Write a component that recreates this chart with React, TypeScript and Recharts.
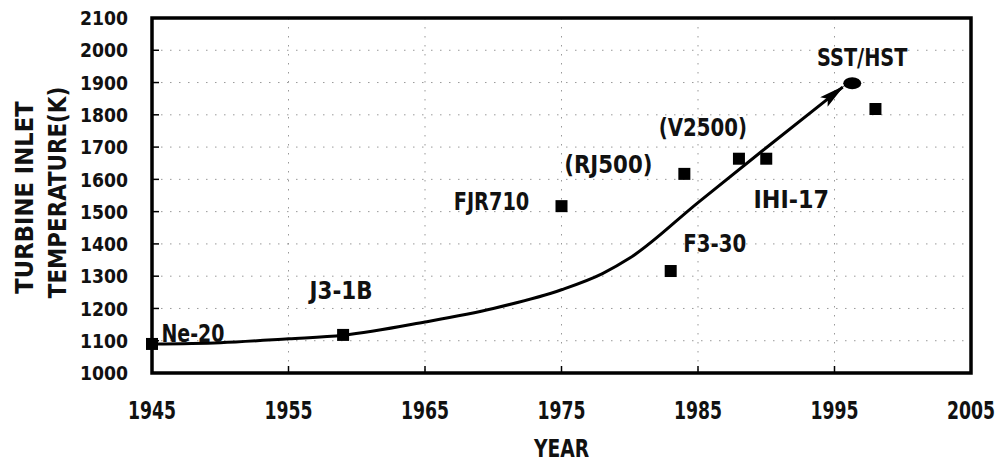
import React from 'react';
import {
  ComposedChart,
  Line,
  Scatter,
  XAxis,
  YAxis,
  CartesianGrid,
  ReferenceArea,
  Label
} from 'recharts';

// Engines plotted as squares
const engineNames = ['Ne-20', 'J3-1B', 'FJR710', '(RJ500)', 'F3-30', '(V2500)', 'IHI-17', ''];
const engineYears = [1945, 1959, 1975, 1984, 1983, 1988, 1990, 1998];
const engineTemps = [1090, 1118, 1517, 1617, 1316, 1664, 1664, 1818];

// Target marked with an ellipse
const targetNames = ['SST/HST'];
const targetYears = [1996.3];
const targetTemps = [1898];

// Trend curve ending in an arrow
const trendYears = [1945, 1950, 1955, 1959, 1965, 1970, 1975, 1978, 1980, 1985, 1990, 1995.6];
const trendTemps = [1090, 1094, 1106, 1117, 1158, 1200, 1258, 1308, 1356, 1528, 1698, 1886];

const yearTicks = [1945, 1955, 1965, 1975, 1985, 1995, 2005];
const tempTicks = [1000, 1100, 1200, 1300, 1400, 1500, 1600, 1700, 1800, 1900, 2000, 2100];

const engines = engineYears.map((year, i) => ({ year, temp: engineTemps[i], name: engineNames[i] }));
const targets = targetYears.map((year, i) => ({ year, temp: targetTemps[i], name: targetNames[i] }));
const trend = trendYears.map((year, i) => ({ year, temp: trendTemps[i] }));

// where each label's centre sits relative to its marker
const labelOffsets: Record<string, [number, number]> = {
  'Ne-20': [41, -11],
  'J3-1B': [-2, -45],
  FJR710: [-70, -5],
  '(RJ500)': [-76, -10],
  'F3-30': [44, -28],
  '(V2500)': [-36, -31],
  'IHI-17': [25, 41],
  'SST/HST': [10, -26]
};

const FONT = '"DejaVu Sans Condensed", "DejaVu Sans", sans-serif';

const Txt = ({ x, y, text, size, charW, anchor = 'middle', rotate = false }: any) => (
  <text
    x={x}
    y={y}
    dy="0.36em"
    fontFamily={FONT}
    fontWeight={700}
    fontSize={size}
    fill="#111"
    textAnchor={anchor}
    textLength={text.length * charW}
    lengthAdjust="spacingAndGlyphs"
    transform={rotate ? `rotate(-90 ${x} ${y})` : undefined}
  >
    {text}
  </text>
);

const YearTick = ({ x, y, payload }: any) => (
  <g>
    <line x1={x} y1={y} x2={x} y2={y - 7} stroke="#000" strokeWidth={1.5} />
    <Txt x={x} y={y + 37} text={String(payload.value)} size={24} charW={12} />
  </g>
);

const TempTick = ({ x, y, payload }: any) => (
  <g>
    <line x1={x} y1={y} x2={x + 7} y2={y} stroke="#000" strokeWidth={1.5} />
    <Txt x={x - 24} y={y} text={String(payload.value)} size={20} charW={12} anchor="end" />
  </g>
);

const SquareMark = ({ cx, cy, payload }: any) => {
  const off = labelOffsets[payload.name];
  return (
    <g>
      <rect x={cx - 6} y={cy - 6} width={12} height={12} fill="#000" />
      {off && <Txt x={cx + off[0]} y={cy + off[1]} text={payload.name} size={24} charW={12.6} />}
    </g>
  );
};

const EllipseMark = ({ cx, cy, payload }: any) => {
  const off = labelOffsets[payload.name];
  return (
    <g>
      <ellipse cx={cx} cy={cy} rx={9} ry={6} fill="#000" />
      {off && <Txt x={cx + off[0]} y={cy + off[1]} text={payload.name} size={24} charW={12.9} />}
    </g>
  );
};

export default function App() {
  return (
    <div style={{ position: 'absolute', left: 0, top: 0, background: '#fff' }}>
      <svg width={0} height={0} style={{ position: 'absolute' }}>
        <defs>
          <marker
            id="trend-arrow"
            markerUnits="userSpaceOnUse"
            markerWidth={26}
            markerHeight={12}
            refX={24}
            refY={6}
            orient="auto"
          >
            <path d="M0,0 L26,6 L0,12 L5,6 z" fill="#000" />
          </marker>
        </defs>
      </svg>
      <ComposedChart width={1000} height={463} margin={{ top: 18, right: 29, bottom: 0, left: 0 }}>
        <CartesianGrid stroke="#999" strokeDasharray="1.5 7.5" strokeWidth={1} />
        <XAxis
          type="number"
          dataKey="year"
          domain={[1945, 2005]}
          ticks={yearTicks}
          interval={0}
          height={90}
          axisLine={false}
          tickLine={false}
          tickSize={0}
          tickMargin={0}
          tick={<YearTick />}
        >
          <Label
            content={({ viewBox }: any) => (
              <Txt x={viewBox.x + viewBox.width / 2} y={448} text="YEAR" size={24} charW={13.8} />
            )}
          />
        </XAxis>
        <YAxis
          type="number"
          dataKey="temp"
          domain={[1000, 2100]}
          ticks={tempTicks}
          interval={0}
          width={152}
          axisLine={false}
          tickLine={false}
          tickSize={0}
          tickMargin={0}
          tick={<TempTick />}
        >
          <Label
            content={({ viewBox }: any) => {
              const cy = viewBox.y + viewBox.height / 2;
              return (
                <g>
                  <Txt x={24} y={cy + 2} text="TURBINE INLET" size={24} charW={14.8} rotate />
                  <Txt x={57} y={cy - 3} text="TEMPERATURE(K)" size={24} charW={15.1} rotate />
                </g>
              );
            }}
          />
        </YAxis>
        <ReferenceArea
          x1={1945}
          x2={2005}
          y1={1000}
          y2={2100}
          fill="none"
          stroke="#000"
          strokeWidth={3.5}
          ifOverflow="visible"
        />
        <Line
          data={trend}
          dataKey="temp"
          type="monotone"
          stroke="#000"
          strokeWidth={3}
          dot={false}
          activeDot={false}
          markerEnd="url(#trend-arrow)"
          isAnimationActive={false}
        />
        <Scatter data={engines} dataKey="temp" shape={<SquareMark />} isAnimationActive={false} />
        <Scatter data={targets} dataKey="temp" shape={<EllipseMark />} isAnimationActive={false} />
      </ComposedChart>
    </div>
  );
}
